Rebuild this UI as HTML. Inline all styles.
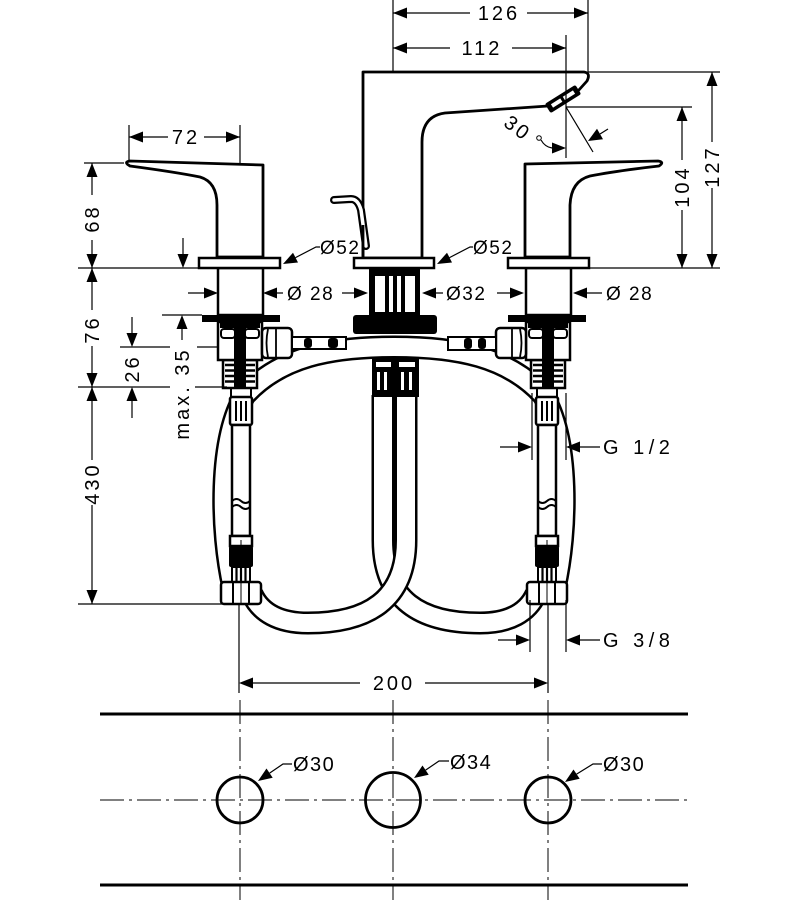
<!DOCTYPE html>
<html><head><meta charset="utf-8">
<style>
html,body{margin:0;padding:0;background:#fff;}
svg{display:block;}
text{font-family:"Liberation Sans",sans-serif;fill:#000;}
</style></head><body>
<svg width="800" height="900" viewBox="0 0 800 900" xmlns="http://www.w3.org/2000/svg">

<!-- bottom mounting plate -->
<g stroke="#000" fill="none">
<line x1="100" y1="714" x2="688" y2="714" stroke-width="3"/>
<line x1="100" y1="885" x2="688" y2="885" stroke-width="3"/>
<g stroke-width="1" stroke-dasharray="24 5 3 5">
<line x1="100" y1="800" x2="690" y2="800"/>
<line x1="240" y1="700" x2="240" y2="900"/>
<line x1="393" y1="700" x2="393" y2="900"/>
<line x1="548" y1="700" x2="548" y2="900"/>
</g>
<circle cx="240" cy="800" r="23" stroke-width="2.8"/>
<circle cx="393" cy="800" r="27.5" stroke-width="2.8"/>
<circle cx="548" cy="800" r="23" stroke-width="2.8"/>
</g>

<!-- hoses -->
<g fill="none">
<path d="M233,588 C220,530 218,440 245,395 C280,357 330,347 394,347 C458,347 508,357 543,395 C570,440 568,530 555,588" stroke="#000" stroke-width="23"/>
<path d="M233,588 C220,530 218,440 245,395 C280,357 330,347 394,347 C458,347 508,357 543,395 C570,440 568,530 555,588" stroke="#fff" stroke-width="18"/>
<path d="M383,395 L383,540 C383,600 420,623 480,623 C510,623 528,612 536,594" stroke="#000" stroke-width="23"/>
<path d="M383,395 L383,540 C383,600 420,623 480,623 C510,623 528,612 536,594" stroke="#fff" stroke-width="18"/>
<path d="M406,395 L406,540 C406,600 368,623 308,623 C278,623 260,612 252,594" stroke="#000" stroke-width="23"/>
<path d="M406,395 L406,540 C406,600 368,623 308,623 C278,623 260,612 252,594" stroke="#fff" stroke-width="18"/>
</g>

<!-- vertical supply hose left -->
<g id="hoseL">
<rect x="231" y="388" width="20" height="9" fill="#fff" stroke="#000" stroke-width="2"/>
<rect x="230" y="397" width="22" height="28" rx="2" fill="#fff" stroke="#000" stroke-width="2.5"/>
<path d="M236,401V421M241,401V421M246,401V421" stroke="#000" stroke-width="2"/>
<rect x="232" y="425" width="18" height="111" fill="#fff" stroke="#000" stroke-width="2.5"/>
<path d="M232,501 Q236.5,497 241,501 T250,501 M232,507 Q236.5,503 241,507 T250,507" fill="none" stroke="#000" stroke-width="2"/>
<rect x="230" y="536" width="22" height="10" fill="#fff" stroke="#000" stroke-width="2.5"/>
<rect x="229" y="546" width="24" height="21" rx="2" fill="#000"/>
<rect x="232" y="567" width="18" height="15" fill="#fff" stroke="#000" stroke-width="2"/>
<path d="M236.5,567V582M241,567V582M245.5,567V582" stroke="#000" stroke-width="2.2"/>
<rect x="221" y="582" width="40" height="22" rx="3" fill="#fff" stroke="#000" stroke-width="2.5"/>
<path d="M233,582V604M249,582V604" stroke="#000" stroke-width="2"/>
<line x1="241" y1="540" x2="241" y2="604" stroke="#000" stroke-width="1"/>
</g>
<!-- vertical supply hose right (mirrored) -->
<g transform="translate(788,0) scale(-1,1)">
<rect x="231" y="388" width="20" height="9" fill="#fff" stroke="#000" stroke-width="2"/>
<rect x="230" y="397" width="22" height="28" rx="2" fill="#fff" stroke="#000" stroke-width="2.5"/>
<path d="M236,401V421M241,401V421M246,401V421" stroke="#000" stroke-width="2"/>
<rect x="232" y="425" width="18" height="111" fill="#fff" stroke="#000" stroke-width="2.5"/>
<path d="M232,501 Q236.5,497 241,501 T250,501 M232,507 Q236.5,503 241,507 T250,507" fill="none" stroke="#000" stroke-width="2"/>
<rect x="230" y="536" width="22" height="10" fill="#fff" stroke="#000" stroke-width="2.5"/>
<rect x="229" y="546" width="24" height="21" rx="2" fill="#000"/>
<rect x="232" y="567" width="18" height="15" fill="#fff" stroke="#000" stroke-width="2"/>
<path d="M236.5,567V582M241,567V582M245.5,567V582" stroke="#000" stroke-width="2.2"/>
<rect x="221" y="582" width="40" height="22" rx="3" fill="#fff" stroke="#000" stroke-width="2.5"/>
<path d="M233,582V604M249,582V604" stroke="#000" stroke-width="2"/>
<line x1="241" y1="540" x2="241" y2="604" stroke="#000" stroke-width="1"/>
</g>

<!-- valve left -->
<g>
<rect x="223" y="360" width="34" height="28" fill="#fff" stroke="#000" stroke-width="2.5"/>
<path d="M225,365H255M225,370.5H255M225,376H255M225,381.5H255" stroke="#000" stroke-width="2.5"/>
<rect x="218" y="322" width="44" height="38" fill="#fff" stroke="#000" stroke-width="2.5"/>
<rect x="221" y="329" width="14" height="9" rx="3" fill="#fff" stroke="#000" stroke-width="2"/>
<rect x="245" y="329" width="14" height="9" rx="3" fill="#fff" stroke="#000" stroke-width="2"/>
<rect x="220" y="322" width="40" height="6" fill="#000"/>
<rect x="234" y="322" width="12" height="66" fill="#000"/>
<rect x="202" y="315" width="78" height="7" fill="#000"/>
<rect x="262" y="328" width="30" height="30" rx="4" fill="#fff" stroke="#000" stroke-width="2.5"/>
<path d="M268,329 Q265,343 268,357 M276,329 V357" stroke="#000" stroke-width="1.8" fill="none"/>
<rect x="292" y="337" width="54" height="12" fill="#fff" stroke="#000" stroke-width="2"/>
<rect x="304" y="338" width="8" height="10" rx="3" fill="#000"/>
<rect x="328" y="338" width="10" height="10" rx="3" fill="#000"/>
</g>
<!-- valve right (mirrored) -->
<g transform="translate(788,0) scale(-1,1)">
<rect x="223" y="360" width="34" height="28" fill="#fff" stroke="#000" stroke-width="2.5"/>
<path d="M225,365H255M225,370.5H255M225,376H255M225,381.5H255" stroke="#000" stroke-width="2.5"/>
<rect x="218" y="322" width="44" height="38" fill="#fff" stroke="#000" stroke-width="2.5"/>
<rect x="221" y="329" width="14" height="9" rx="3" fill="#fff" stroke="#000" stroke-width="2"/>
<rect x="245" y="329" width="14" height="9" rx="3" fill="#fff" stroke="#000" stroke-width="2"/>
<rect x="220" y="322" width="40" height="6" fill="#000"/>
<rect x="234" y="322" width="12" height="66" fill="#000"/>
<rect x="202" y="315" width="78" height="7" fill="#000"/>
<rect x="262" y="328" width="30" height="30" rx="4" fill="#fff" stroke="#000" stroke-width="2.5"/>
<path d="M268,329 Q265,343 268,357 M276,329 V357" stroke="#000" stroke-width="1.8" fill="none"/>
<rect x="292" y="337" width="48" height="13" fill="#fff" stroke="#000" stroke-width="2"/>
<rect x="302" y="338" width="8" height="11" rx="3" fill="#000"/>
<rect x="316" y="338" width="8" height="11" rx="3" fill="#000"/>
</g>

<!-- center body -->
<rect x="369" y="267" width="51" height="49" fill="#000"/>
<g fill="#fff"><rect x="375" y="276" width="10" height="36"/><rect x="389" y="276" width="4" height="36"/><rect x="397" y="276" width="4" height="36"/><rect x="405" y="276" width="10" height="36"/></g>
<rect x="353" y="315" width="84" height="19" rx="3" fill="#000"/>
<rect x="372" y="357" width="23" height="40" fill="#000"/>
<rect x="395" y="357" width="24" height="40" fill="#000"/>
<g fill="#fff">
<rect x="376" y="362" width="15" height="5"/><rect x="399" y="362" width="16" height="5"/>
<rect x="377" y="372" width="3" height="18"/><rect x="384" y="372" width="3" height="18"/>
<rect x="401" y="372" width="3" height="18"/><rect x="409" y="372" width="3" height="18"/>
</g>

<!-- stems -->
<rect x="218" y="268" width="45" height="47" fill="#fff" stroke="#000" stroke-width="2.5"/>
<rect x="526" y="268" width="45" height="47" fill="#fff" stroke="#000" stroke-width="2.5"/>

<!-- handles -->
<path d="M263,257 V165 L130,161 Q123,162 130,166 Q175,172 200,177 Q217,182 217,205 V257 Z" fill="#fff" stroke="#000" stroke-width="2.8" stroke-linejoin="round"/>
<path d="M525,257 V164 L658,161 Q665,162 659,166 Q615,171 590,176 Q571,181 570,205 V257 Z" fill="#fff" stroke="#000" stroke-width="2.8" stroke-linejoin="round"/>

<!-- spout -->
<path d="M363,258 V72 L584,72 Q591,73 587,81 L578,91 L548,106 L445,113 Q422,116 422,142 V258 Z" fill="#fff" stroke="#000" stroke-width="2.8" stroke-linejoin="round"/>
<g transform="translate(563,99) rotate(-32)"><rect x="-18" y="-5.5" width="36" height="11" rx="2" fill="#000"/><rect x="-13" y="-2" width="11" height="4" fill="#fff"/><rect x="1" y="-2" width="12" height="4" fill="#fff"/></g>
<!-- lever -->
<path d="M334,200 L351,199 Q358,199 361,210 L366,246" fill="none" stroke="#000" stroke-width="8" stroke-linecap="round" stroke-linejoin="round"/>
<path d="M334,200 L351,199 Q358,199 361,210 L366,246" fill="none" stroke="#fff" stroke-width="3.5" stroke-linecap="round" stroke-linejoin="round"/>
<line x1="363" y1="225" x2="363" y2="257" stroke="#000" stroke-width="2.8"/>

<!-- base plates -->
<rect x="199" y="258" width="81" height="10" fill="#fff" stroke="#000" stroke-width="2.5"/>
<rect x="354" y="258" width="80" height="10" fill="#fff" stroke="#000" stroke-width="2.5"/>
<rect x="508" y="258" width="81" height="10" fill="#fff" stroke="#000" stroke-width="2.5"/>

<!-- dimension lines -->
<g fill="none" stroke="#000" stroke-width="1.2">
<path d="M393,0 V72 M588,0 V72 M393,13 H470 M527,13 H588"/>
<path d="M393,48 H450 M512,48 H566 M566,35 V158"/>
<path d="M566,107 H692 M682,107 V160 M682,210 V268"/>
<path d="M588,72 H720 M712,72 V142 M712,188 V268 M589,268 H720"/>
<path d="M566,107 L593,152 M600,134 L608,129"/>
<path d="M541,140 Q545,147 552,148"/>
<path d="M129,125 V160 M240,125 V163 M129,137 H168 M204,137 H240"/>
<path d="M84,163 H124 M92,163 V195 M92,240 V268 M78,268 H200"/>
<path d="M183,238 V254"/>
<path d="M92,268 V310 M92,346 V387 M78,387 H170 M195,387 H227"/>
<path d="M120,347 H170 M197,347 H218 M132,317 V333 M132,401 V418"/>
<path d="M162,315 H202 M182,329 V340"/>
<path d="M92,387 V460 M92,505 V604 M78,604 H222"/>
<path d="M188,293 H204 M277,293 H283 M342,293 H354 M436,293 H443 M497,293 H510 M587,293 H602"/>
<path d="M295.5,257.6 L316,247 H320 M449.5,257.6 L470,247 H473"/>
<path d="M532,393 V460 M566,393 V460 M500,447 H518 M580,447 H600"/>
<path d="M530,600 V652 M566,600 V652 M498,640 H516 M580,640 H600"/>
<path d="M239,604 V693 M548,604 V693 M253,683 H360 M425,683 H534"/>
<path d="M269.6,773.1 L283,764 H292 M425.6,770.1 L439,761 H449 M576.6,774.1 L593,764 H602"/>
</g>
<circle cx="539" cy="138" r="2.3" fill="#fff" stroke="#000" stroke-width="1"/>

<!-- arrowheads -->
<g fill="#000" stroke="none">
<polygon points="393,13 407,7.5 407,18.5"/><polygon points="588,13 574,7.5 574,18.5"/>
<polygon points="393,48 407,42.5 407,53.5"/><polygon points="566,48 552,42.5 552,53.5"/>
<polygon points="682,107 676.5,121 687.5,121"/><polygon points="682,268 676.5,254 687.5,254"/>
<polygon points="712,72 706.5,86 717.5,86"/><polygon points="712,268 706.5,254 717.5,254"/>
<polygon points="588,141 603,139.2 597,128.8"/>
<polygon points="566,148 552,142.5 552,153.5"/>
<polygon points="129,137 143,131.5 143,142.5"/><polygon points="240,137 226,131.5 226,142.5"/>
<polygon points="92,163 86.5,177 97.5,177"/><polygon points="92,268 86.5,254 97.5,254"/>
<polygon points="92,268 86.5,282 97.5,282"/><polygon points="92,387 86.5,373 97.5,373"/>
<polygon points="92,387 86.5,401 97.5,401"/><polygon points="92,604 86.5,590 97.5,590"/>
<polygon points="183,268 177.5,254 188.5,254"/>
<polygon points="182,315 176.5,329 187.5,329"/>
<polygon points="132,347 126.5,333 137.5,333"/><polygon points="132,387 126.5,401 137.5,401"/>
<polygon points="218,293 204,287.5 204,298.5"/><polygon points="263,293 277,287.5 277,298.5"/>
<polygon points="368,293 354,287.5 354,298.5"/><polygon points="422,293 436,287.5 436,298.5"/>
<polygon points="524,293 510,287.5 510,298.5"/><polygon points="573,293 587,287.5 587,298.5"/>
<polygon points="283,264 298,262.5 293,252.7"/><polygon points="437,264 452,262.5 447,252.7"/>
<polygon points="532,447 518,441.5 518,452.5"/><polygon points="566,447 580,441.5 580,452.5"/>
<polygon points="530,640 516,634.5 516,645.5"/><polygon points="566,640 580,634.5 580,645.5"/>
<polygon points="239,683 253,677.5 253,688.5"/><polygon points="548,683 534,677.5 534,688.5"/>
<polygon points="258,781 272.7,777.7 266.5,768.5"/>
<polygon points="414,778 428.7,774.7 422.5,765.5"/>
<polygon points="565,782 579.7,778.7 573.5,769.5"/>
</g>

<!-- labels -->
<g font-size="20" letter-spacing="3">
<text x="499" y="20" text-anchor="middle">126</text>
<text x="482" y="55" text-anchor="middle">112</text>
<text x="186" y="144" text-anchor="middle">72</text>
<text x="394" y="690" text-anchor="middle">200</text>
<text transform="translate(689,186.5) rotate(-90)" text-anchor="middle">104</text>
<text transform="translate(719,166.5) rotate(-90)" text-anchor="middle">127</text>
<text transform="translate(99,218.5) rotate(-90)" text-anchor="middle">68</text>
<text transform="translate(99,329.5) rotate(-90)" text-anchor="middle">76</text>
<text transform="translate(139,368.5) rotate(-90)" text-anchor="middle">26</text>
<text transform="translate(99,483.5) rotate(-90)" text-anchor="middle">430</text>
<text transform="translate(189,393.5) rotate(-90)" text-anchor="middle">max. 35</text>
<text transform="translate(518,128) rotate(37)" text-anchor="middle" y="7">30</text>
<text x="603" y="454" letter-spacing="4.5">G 1/2</text>
<text x="603" y="647" letter-spacing="4.5">G 3/8</text>
</g>
<g font-size="19" letter-spacing="1.5">
<text x="320" y="254">Ø52</text>
<text x="473" y="254">Ø52</text>
<text x="287" y="300">Ø 28</text>
<text x="446" y="300">Ø32</text>
<text x="606" y="300">Ø 28</text>
</g>
<g font-size="20" letter-spacing="1.5">
<text x="293" y="771">Ø30</text>
<text x="450" y="769">Ø34</text>
<text x="603" y="771">Ø30</text>
</g>
</svg>
</body></html>
